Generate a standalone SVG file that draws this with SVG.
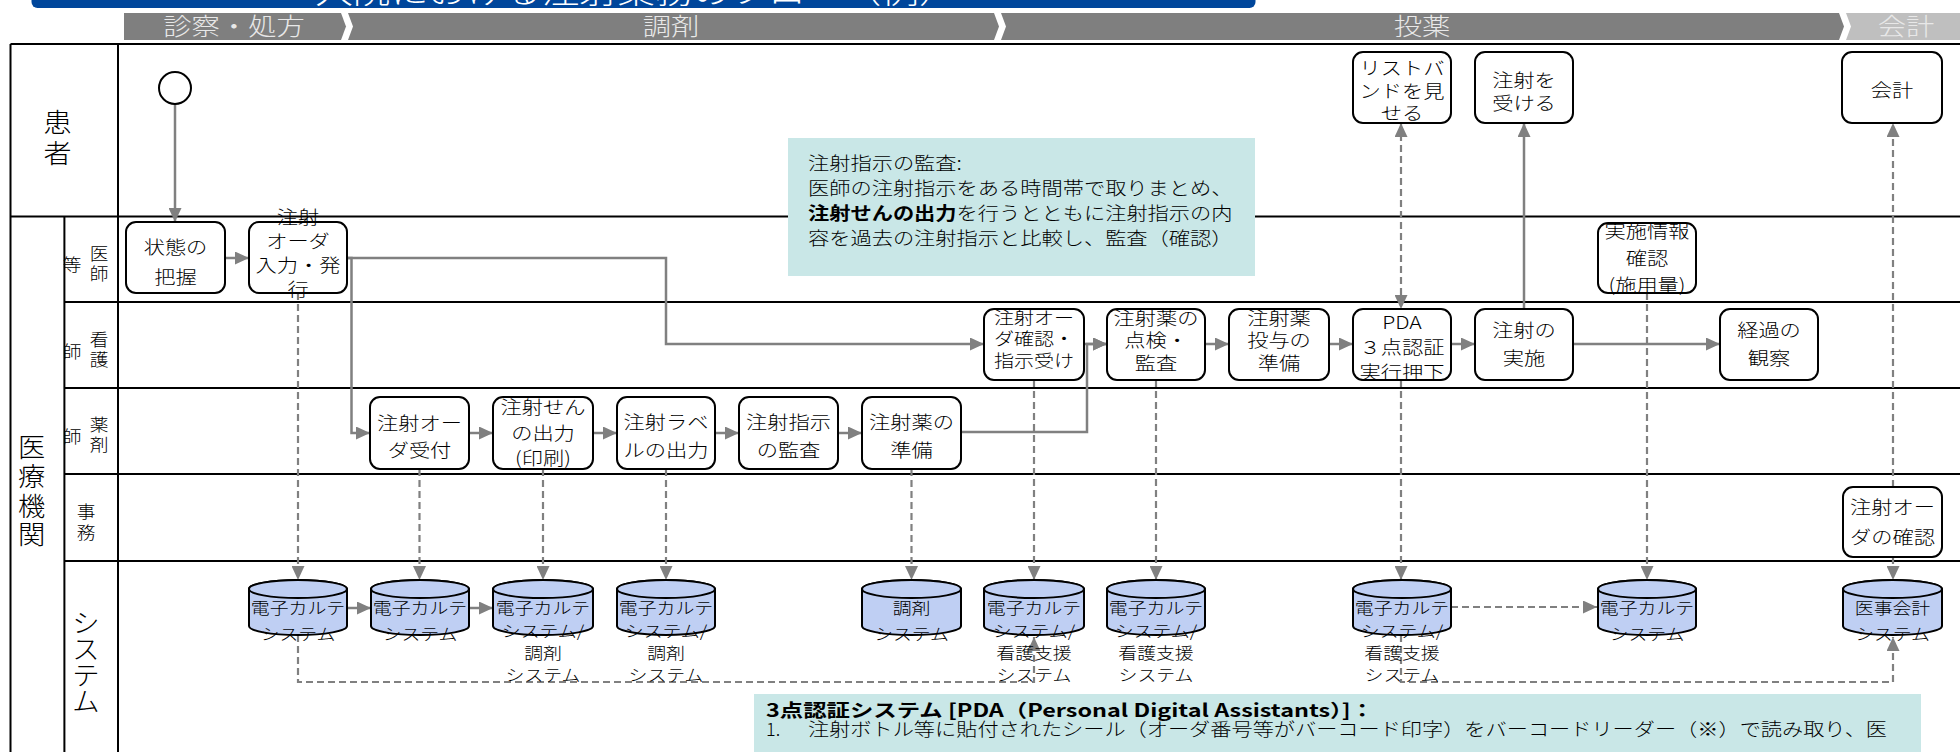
<svg xmlns="http://www.w3.org/2000/svg" width="1960" height="752" viewBox="0 0 1960 752">
<style>
text{font-family:"Noto Sans CJK JP","Noto Sans",sans-serif;font-weight:300}
.bx{font-size:18px;fill:#000;text-anchor:middle}
.sm{font-size:17px}
.cy{font-size:16px;fill:#000;text-anchor:middle}
.ph{font-size:24px;fill:#e8e8e8;text-anchor:middle}
.ln{font-size:26px;fill:#000;text-anchor:middle}
.sl{font-size:17px;fill:#000;text-anchor:middle}
.nt{font-size:18px;fill:#000}
.b{font-weight:bold}
.box{fill:#fff;stroke:#000;stroke-width:2}
.cyl{fill:#bfcff3;stroke:#000;stroke-width:2}
.lane{stroke:#000;stroke-width:2;fill:none}
.c{fill:none;stroke:#808080;stroke-width:2.5}
.d{fill:none;stroke:#808080;stroke-width:2.2;stroke-dasharray:7 4}
.note{fill:#c9e7e7}
</style>
<defs>
<marker id="ah" markerUnits="userSpaceOnUse" viewBox="0 0 14 13" refX="14" refY="6.5" markerWidth="14" markerHeight="13" orient="auto-start-reverse"><path d="M0,0 L14,6.5 L0,13 z" fill="#808080"/></marker>
</defs>

<!-- title bar -->
<g id="title">
<rect x="31.5" y="-20" width="1224" height="28" rx="6" fill="#00469b"/>
<text transform="translate(636,0) scale(1.18,1)" x="0" y="3" font-size="32" fill="#fff" text-anchor="middle">入院における注射業務のフロー（例）</text>
</g>

<!-- phase bar -->
<g id="phases">
<path d="M124,13 H341 L346,26.5 L341,40 H124 Z" fill="#7f7f7f"/>
<path d="M348,13 H994 L999,26.5 L994,40 H348 L353,26.5 Z" fill="#7f7f7f"/>
<path d="M1001,13 H1839 L1844,26.5 L1839,40 H1001 L1006,26.5 Z" fill="#7f7f7f"/>
<path d="M1846,13 H1960 V40 H1846 L1851,26.5 Z" fill="#bfbfbf"/>
<text class="ph" transform="translate(234,0) scale(1.18,1)" x="0" y="35">診察・処方</text>
<text class="ph" transform="translate(671,0) scale(1.18,1)" x="0" y="35">調剤</text>
<text class="ph" transform="translate(1422,0) scale(1.18,1)" x="0" y="35">投薬</text>
<text class="ph" transform="translate(1906,0) scale(1.18,1)" x="0" y="35">会計</text>
</g>

<!-- swimlanes -->
<g id="lanes">
<path class="lane" d="M10.5,44 H1960 M10.5,44 V752 M118,44 V752 M64.4,216.5 V752 M10.5,216.5 H1960 M64.4,302 H1960 M64.4,388 H1960 M64.4,474 H1960 M64.4,561 H1960"/>
<text class="ln" transform="translate(57.5,0) scale(1.08,1)"><tspan x="0" y="132">患</tspan><tspan x="0" y="163">者</tspan></text>
<text class="ln" transform="translate(31.6,0) scale(1.05,1)"><tspan x="0" y="457">医</tspan><tspan x="0" y="486">療</tspan><tspan x="0" y="516">機</tspan><tspan x="0" y="544">関</tspan></text>
<text class="sl" transform="translate(99,0) scale(1.1,1)"><tspan x="0" y="260">医</tspan><tspan x="0" y="280">師</tspan></text>
<text class="sl" transform="translate(72,0) scale(1.1,1)" x="0" y="271">等</text>
<text class="sl" transform="translate(99,0) scale(1.1,1)"><tspan x="0" y="346">看</tspan><tspan x="0" y="366">護</tspan></text>
<text class="sl" transform="translate(72,0) scale(1.1,1)" x="0" y="358">師</text>
<text class="sl" transform="translate(99,0) scale(1.1,1)"><tspan x="0" y="431">薬</tspan><tspan x="0" y="451">剤</tspan></text>
<text class="sl" transform="translate(72,0) scale(1.1,1)" x="0" y="443">師</text>
<text class="sl" transform="translate(86,0) scale(1.1,1)"><tspan x="0" y="518">事</tspan><tspan x="0" y="539">務</tspan></text>
<text class="ln" transform="translate(86,0) scale(1.05,1)"><tspan x="0" y="633">シ</tspan><tspan x="0" y="659">ス</tspan><tspan x="0" y="685">テ</tspan><tspan x="0" y="711">ム</tspan></text>
</g>

<!-- note boxes -->
<g id="note-audit">
<rect class="note" x="788" y="138" width="467" height="138"/>
<text class="nt" transform="translate(808,0) scale(1.18,1)"><tspan x="0" y="170">注射指示の監査:</tspan><tspan x="0" y="195">医師の注射指示をある時間帯で取りまとめ、</tspan><tspan x="0" y="220"><tspan class="b">注射せんの出力</tspan>を行うとともに注射指示の内</tspan><tspan x="0" y="245">容を過去の注射指示と比較し、監査（確認）</tspan></text>
</g>
<g id="note-pda">
<rect class="note" x="754" y="694" width="1167" height="70"/>
<text class="nt b" x="766" y="717" textLength="608" lengthAdjust="spacingAndGlyphs">3点認証システム [PDA（Personal Digital Assistants）]：</text>
<text class="nt" x="766" y="736">1.</text>
<text class="nt" x="808" y="736" textLength="1079" lengthAdjust="spacingAndGlyphs">注射ボトル等に貼付されたシール（オーダ番号等がバーコード印字）をバーコードリーダー（※）で読み取り、医</text>
</g>

<!-- connectors -->
<g id="connectors">
<path class="c" d="M175,104 V222" marker-end="url(#ah)"/>
<path class="c" d="M225,258 H249" marker-end="url(#ah)"/>
<path class="c" d="M347,258 H666 V344 H984" marker-end="url(#ah)"/>
<path class="c" d="M347,258 H351.5 V433 H370" marker-end="url(#ah)"/>
<path class="c" d="M469,433 H493" marker-end="url(#ah)"/>
<path class="c" d="M593,433 H617" marker-end="url(#ah)"/>
<path class="c" d="M715,433 H739" marker-end="url(#ah)"/>
<path class="c" d="M838,433 H862" marker-end="url(#ah)"/>
<path class="c" d="M961,432 H1087 V344 H1107" marker-end="url(#ah)"/>
<path class="c" d="M1084,344 H1107" marker-end="url(#ah)"/>
<path class="c" d="M1205,344 H1229" marker-end="url(#ah)"/>
<path class="c" d="M1329,344 H1353" marker-end="url(#ah)"/>
<path class="c" d="M1451,344 H1475" marker-end="url(#ah)"/>
<path class="c" d="M1573,344 H1720" marker-end="url(#ah)"/>
<path class="c" d="M1524,309 V123" marker-end="url(#ah)"/>
<path class="c" d="M347,608 H371" marker-end="url(#ah)"/>
<path class="c" d="M469,608 H493" marker-end="url(#ah)"/>
<path class="d" d="M298,293 V580" marker-end="url(#ah)"/>
<path class="d" d="M419.5,469 V580" marker-end="url(#ah)"/>
<path class="d" d="M543,469 V580" marker-end="url(#ah)"/>
<path class="d" d="M666,469 V580" marker-end="url(#ah)"/>
<path class="d" d="M911.5,469 V580" marker-end="url(#ah)"/>
<path class="d" d="M1034,380 V580" marker-end="url(#ah)"/>
<path class="d" d="M1156,380 V580" marker-end="url(#ah)"/>
<path class="d" d="M1401,380 V580" marker-end="url(#ah)"/>
<path class="d" d="M1647,293 V580" marker-end="url(#ah)"/>
<path class="d" d="M1893,557 V580" marker-end="url(#ah)"/>
<path class="d" d="M1893,487 V123" marker-end="url(#ah)"/>
<path class="d" d="M1401,123 V309" marker-start="url(#ah)" marker-end="url(#ah)"/>
<path class="d" d="M298,635 V682 H1034 V637" marker-end="url(#ah)"/>
<path class="d" d="M1401,635 V682 H1893 V637" marker-end="url(#ah)"/>
<path class="d" d="M1451,607 H1597" marker-end="url(#ah)"/>
</g>

<!-- nodes -->
<g id="n-start"><circle cx="175" cy="88" r="16" fill="#fff" stroke="#000" stroke-width="2"/></g>

<g id="n-wristband"><rect class="box" x="1353" y="52" width="98" height="71" rx="10"/>
<text class="bx" transform="translate(1402,0) scale(1.18,1)"><tspan x="0" y="75">リストバ</tspan><tspan x="0" y="98">ンドを見</tspan><tspan x="0" y="120">せる</tspan></text></g>
<g id="n-receive"><rect class="box" x="1475" y="52" width="98" height="71" rx="10"/>
<text class="bx" transform="translate(1524,0) scale(1.18,1)"><tspan x="0" y="87">注射を</tspan><tspan x="0" y="110">受ける</tspan></text></g>
<g id="n-pay"><rect class="box" x="1842" y="52" width="100" height="71" rx="10"/>
<text class="bx" transform="translate(1892,0) scale(1.18,1)" x="0" y="97">会計</text></g>

<g id="n-state"><rect class="box" x="126" y="222" width="99" height="71" rx="10"/>
<text class="bx" transform="translate(175.5,0) scale(1.18,1)"><tspan x="0" y="254">状態の</tspan><tspan x="0" y="284">把握</tspan></text></g>
<g id="n-order"><rect class="box" x="249" y="222" width="98" height="71" rx="10"/>
<text class="bx" transform="translate(298,0) scale(1.18,1)"><tspan x="0" y="224">注射</tspan><tspan x="0" y="248">オーダ</tspan><tspan x="0" y="272">入力・発</tspan><tspan x="0" y="296">行</tspan></text></g>
<g id="n-info"><rect class="box" x="1598" y="223" width="98" height="70" rx="10"/>
<text class="bx" transform="translate(1647,0) scale(1.18,1)"><tspan x="0" y="238">実施情報</tspan><tspan x="0" y="265">確認</tspan><tspan x="0" y="292">(施用量)</tspan></text></g>

<g id="n-confirm"><rect class="box" x="984" y="309" width="100" height="71" rx="10"/>
<text class="bx sm" transform="translate(1034,0) scale(1.18,1)"><tspan x="0" y="324">注射オー</tspan><tspan x="0" y="345">ダ確認・</tspan><tspan x="0" y="367">指示受け</tspan></text></g>
<g id="n-check"><rect class="box" x="1107" y="309" width="98" height="71" rx="10"/>
<text class="bx" transform="translate(1156,0) scale(1.18,1)"><tspan x="0" y="325">注射薬の</tspan><tspan x="0" y="347">点検・</tspan><tspan x="0" y="370">監査</tspan></text></g>
<g id="n-prep"><rect class="box" x="1229" y="309" width="100" height="71" rx="10"/>
<text class="bx" transform="translate(1279,0) scale(1.18,1)"><tspan x="0" y="325">注射薬</tspan><tspan x="0" y="347">投与の</tspan><tspan x="0" y="370">準備</tspan></text></g>
<g id="n-pda"><rect class="box" x="1353" y="309" width="98" height="71" rx="10"/>
<text class="bx" transform="translate(1402,0) scale(1.18,1)"><tspan x="0" y="329">PDA</tspan><tspan x="0" y="354">３点認証</tspan><tspan x="0" y="379">実行押下</tspan></text></g>
<g id="n-do"><rect class="box" x="1475" y="309" width="98" height="71" rx="10"/>
<text class="bx" transform="translate(1524,0) scale(1.18,1)"><tspan x="0" y="337">注射の</tspan><tspan x="0" y="365">実施</tspan></text></g>
<g id="n-observe"><rect class="box" x="1720" y="309" width="98" height="71" rx="10"/>
<text class="bx" transform="translate(1769,0) scale(1.18,1)"><tspan x="0" y="337">経過の</tspan><tspan x="0" y="365">観察</tspan></text></g>

<g id="n-accept"><rect class="box" x="370" y="397" width="99" height="72" rx="10"/>
<text class="bx" transform="translate(419.5,0) scale(1.18,1)"><tspan x="0" y="430">注射オー</tspan><tspan x="0" y="457">ダ受付</tspan></text></g>
<g id="n-print"><rect class="box" x="493" y="397" width="100" height="72" rx="10"/>
<text class="bx" transform="translate(543,0) scale(1.18,1)"><tspan x="0" y="414">注射せん</tspan><tspan x="0" y="440">の出力</tspan><tspan x="0" y="465">(印刷)</tspan></text></g>
<g id="n-label"><rect class="box" x="617" y="397" width="98" height="72" rx="10"/>
<text class="bx" transform="translate(666,0) scale(1.18,1)"><tspan x="0" y="429">注射ラベ</tspan><tspan x="0" y="457">ルの出力</tspan></text></g>
<g id="n-audit"><rect class="box" x="739" y="397" width="99" height="72" rx="10"/>
<text class="bx" transform="translate(788.5,0) scale(1.18,1)"><tspan x="0" y="429">注射指示</tspan><tspan x="0" y="457">の監査</tspan></text></g>
<g id="n-drugprep"><rect class="box" x="862" y="397" width="99" height="72" rx="10"/>
<text class="bx" transform="translate(911.5,0) scale(1.18,1)"><tspan x="0" y="429">注射薬の</tspan><tspan x="0" y="457">準備</tspan></text></g>

<g id="n-office"><rect class="box" x="1843" y="487" width="99" height="70" rx="10"/>
<text class="bx" transform="translate(1892.5,0) scale(1.18,1)"><tspan x="0" y="514">注射オー</tspan><tspan x="0" y="544">ダの確認</tspan></text></g>

<!-- system cylinders -->
<g id="s1"><path class="cyl" d="M249,589 v37 a49,9 0 0 0 98,0 v-37 a49,9 0 0 0 -98,0 z"/><ellipse class="cyl" cx="298" cy="589" rx="49" ry="9"/>
<text class="cy" transform="translate(298,0) scale(1.18,1)"><tspan x="0" y="614">電子カルテ</tspan><tspan x="0" y="640">システム</tspan></text></g>
<g id="s2"><path class="cyl" d="M371,589 v37 a49,9 0 0 0 98,0 v-37 a49,9 0 0 0 -98,0 z"/><ellipse class="cyl" cx="420" cy="589" rx="49" ry="9"/>
<text class="cy" transform="translate(420,0) scale(1.18,1)"><tspan x="0" y="614">電子カルテ</tspan><tspan x="0" y="640">システム</tspan></text></g>
<g id="s3"><path class="cyl" d="M493,589 v37 a50,9 0 0 0 100,0 v-37 a50,9 0 0 0 -100,0 z"/><ellipse class="cyl" cx="543" cy="589" rx="50" ry="9"/>
<text class="cy" transform="translate(543,0) scale(1.18,1)"><tspan x="0" y="614">電子カルテ</tspan><tspan x="0" y="637">システム/</tspan><tspan x="0" y="659">調剤</tspan><tspan x="0" y="681">システム</tspan></text></g>
<g id="s4"><path class="cyl" d="M617,589 v37 a49,9 0 0 0 98,0 v-37 a49,9 0 0 0 -98,0 z"/><ellipse class="cyl" cx="666" cy="589" rx="49" ry="9"/>
<text class="cy" transform="translate(666,0) scale(1.18,1)"><tspan x="0" y="614">電子カルテ</tspan><tspan x="0" y="637">システム/</tspan><tspan x="0" y="659">調剤</tspan><tspan x="0" y="681">システム</tspan></text></g>
<g id="s5"><path class="cyl" d="M862,589 v37 a49.5,9 0 0 0 99,0 v-37 a49.5,9 0 0 0 -99,0 z"/><ellipse class="cyl" cx="911.5" cy="589" rx="49.5" ry="9"/>
<text class="cy" transform="translate(911.5,0) scale(1.18,1)"><tspan x="0" y="614">調剤</tspan><tspan x="0" y="640">システム</tspan></text></g>
<g id="s6"><path class="cyl" d="M984,589 v37 a50,9 0 0 0 100,0 v-37 a50,9 0 0 0 -100,0 z"/><ellipse class="cyl" cx="1034" cy="589" rx="50" ry="9"/>
<text class="cy" transform="translate(1034,0) scale(1.18,1)"><tspan x="0" y="614">電子カルテ</tspan><tspan x="0" y="637">システム/</tspan><tspan x="0" y="659">看護支援</tspan><tspan x="0" y="681">システム</tspan></text></g>
<g id="s7"><path class="cyl" d="M1107,589 v37 a49,9 0 0 0 98,0 v-37 a49,9 0 0 0 -98,0 z"/><ellipse class="cyl" cx="1156" cy="589" rx="49" ry="9"/>
<text class="cy" transform="translate(1156,0) scale(1.18,1)"><tspan x="0" y="614">電子カルテ</tspan><tspan x="0" y="637">システム/</tspan><tspan x="0" y="659">看護支援</tspan><tspan x="0" y="681">システム</tspan></text></g>
<g id="s8"><path class="cyl" d="M1353,589 v37 a49,9 0 0 0 98,0 v-37 a49,9 0 0 0 -98,0 z"/><ellipse class="cyl" cx="1402" cy="589" rx="49" ry="9"/>
<text class="cy" transform="translate(1402,0) scale(1.18,1)"><tspan x="0" y="614">電子カルテ</tspan><tspan x="0" y="637">システム/</tspan><tspan x="0" y="659">看護支援</tspan><tspan x="0" y="681">システム</tspan></text></g>
<g id="s9"><path class="cyl" d="M1598,589 v37 a49,9 0 0 0 98,0 v-37 a49,9 0 0 0 -98,0 z"/><ellipse class="cyl" cx="1647" cy="589" rx="49" ry="9"/>
<text class="cy" transform="translate(1647,0) scale(1.18,1)"><tspan x="0" y="614">電子カルテ</tspan><tspan x="0" y="640">システム</tspan></text></g>
<g id="s10"><path class="cyl" d="M1843,589 v37 a49.5,9 0 0 0 99,0 v-37 a49.5,9 0 0 0 -99,0 z"/><ellipse class="cyl" cx="1892.5" cy="589" rx="49.5" ry="9"/>
<text class="cy" transform="translate(1892.5,0) scale(1.18,1)"><tspan x="0" y="614">医事会計</tspan><tspan x="0" y="640">システム</tspan></text></g>
</svg>
